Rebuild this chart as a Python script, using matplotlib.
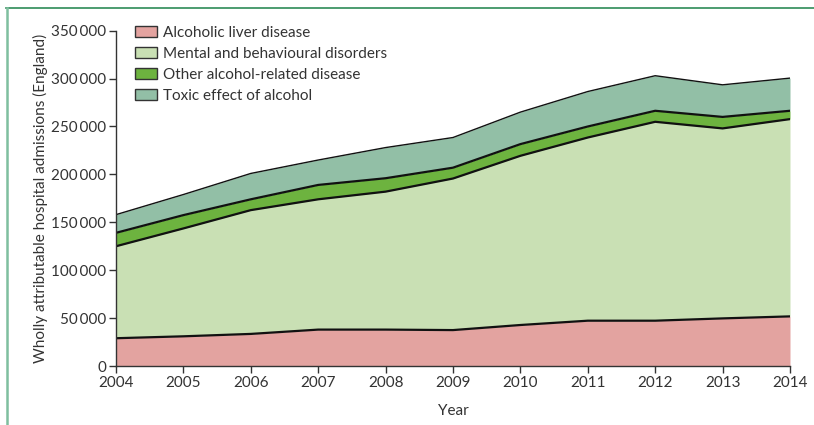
import matplotlib
matplotlib.use("Agg")
import matplotlib.pyplot as plt
from matplotlib.lines import Line2D
from matplotlib.patches import Patch
from matplotlib.ticker import FuncFormatter

# --- data ---
years = [2004, 2005, 2006, 2007, 2008, 2009, 2010, 2011, 2012, 2013, 2014]
liver = [29000, 31000, 33500, 38000, 38000, 37500, 42800, 47300, 47300, 49700, 51800]
mental = [96000, 112600, 129200, 136000, 144000, 158200, 176600, 191200, 207600, 198300, 205900]
other = [14000, 13900, 11300, 15000, 14000, 11300, 12200, 11500, 11500, 12000, 8700]
toxic = [19000, 21500, 27000, 26000, 32000, 31500, 33400, 36500, 36600, 33500, 34100]

labels = ["Alcoholic liver disease", "Mental and behavioural disorders",
          "Other alcohol-related disease", "Toxic effect of alcohol"]
colors = ["#e3a3a0", "#c9e0b4", "#6db33f", "#92bfa6"]

plt.rcParams['font.family'] = ['Lato', 'DejaVu Sans']

fig = plt.figure(figsize=(8.14, 4.25), dpi=100)
ax = fig.add_axes([0.1425, 0.1388, 0.828, 0.789])

series = [liver, mental, other, toxic]
bottom = [0] * len(years)
for vals, col, lab in zip(series, colors, labels):
    top = [b + v for b, v in zip(bottom, vals)]
    ax.fill_between(years, bottom, top, color=col, linewidth=0, label=lab)
    bottom = top

# boundary lines between the layers
bottom = [0] * len(years)
for i, vals in enumerate(series):
    bottom = [b + v for b, v in zip(bottom, vals)]
    lw = 1.0 if i == len(series) - 1 else 1.6
    ax.plot(years, bottom, color="#111111", lw=lw)

ax.set_xlim(2004, 2014)
ax.set_ylim(0, 350000)
ax.set_xticks(years)
ax.set_yticks(range(0, 350001, 50000))
ax.yaxis.set_major_formatter(FuncFormatter(
    lambda v, p: "0" if v == 0 else f"{int(v) // 1000}\u2009{int(v) % 1000:03d}"))

for s in ["top", "right"]:
    ax.spines[s].set_visible(False)
for s in ["left", "bottom"]:
    ax.spines[s].set_color("#333333")
    ax.spines[s].set_linewidth(1.0)
ax.tick_params(direction="out", length=5, width=1.0, color="#333333",
               labelsize=11, labelcolor="#333333", pad=2)

ax.set_xlabel("Year", fontsize=11, color="#333333", labelpad=10)
ax.set_ylabel("Wholly attributable hospital admissions (England)",
              fontsize=11, color="#333333", labelpad=2)

handles = [Patch(facecolor=c, edgecolor="#333333", linewidth=1.0) for c in colors]
ax.legend(handles, labels, loc="upper left", bbox_to_anchor=(0.008, 1.055),
          frameon=False, fontsize=11, handlelength=1.4, handleheight=0.75,
          handletextpad=0.45, labelspacing=0.45, labelcolor="#333333")

# green frame around the figure
fig.add_artist(Line2D([6 / 814, 1], [1 - 8 / 425, 1 - 8 / 425],
                      transform=fig.transFigure, color="#2e8b57", lw=1.2))
fig.add_artist(Line2D([6.5 / 814, 6.5 / 814], [0, 1 - 8 / 425],
                      transform=fig.transFigure, color="#7fbf9f", lw=1.8))

fig.savefig("out.png", dpi=100)
